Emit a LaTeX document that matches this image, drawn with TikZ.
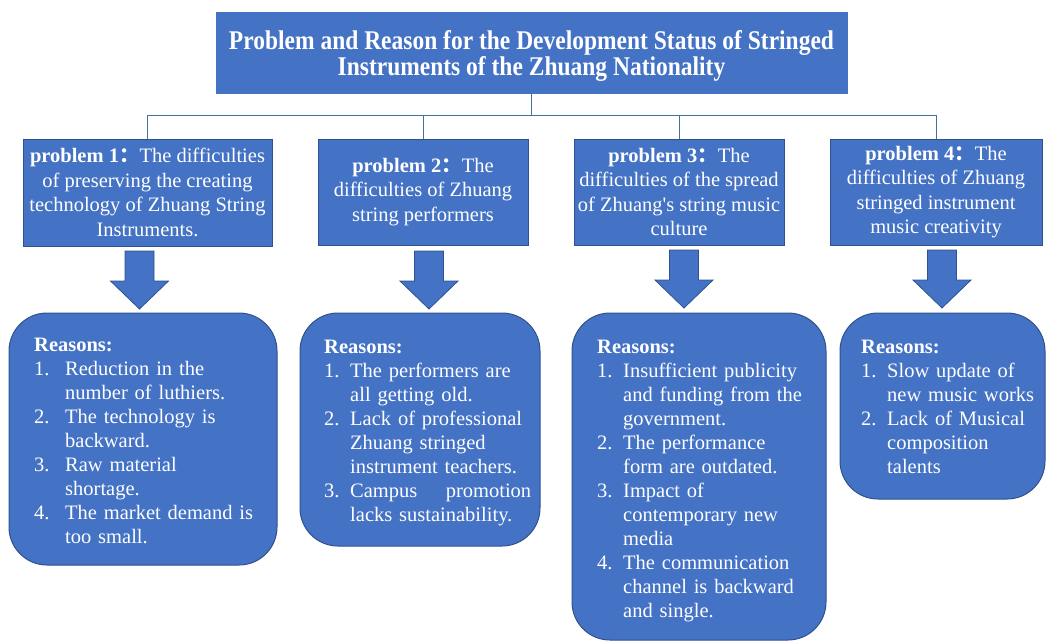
\documentclass[tikz,border=0pt]{standalone}
\usepackage{fontspec}
\setmainfont{Liberation Serif}[Ligatures=TeXOff]
\newfontfamily\titlefont[FakeStretch=0.87]{Liberation Serif}
\newfontfamily\cjkfont{Noto Sans CJK SC}
\definecolor{boxblue}{HTML}{4472C4}
\definecolor{edgeblue}{HTML}{2F528F}
\definecolor{linkblue}{HTML}{41719C}
\newcommand\itm[2][26pt]{\makebox[#1][l]{#2}}
\newcommand\cnt[1][26pt]{\hspace*{#1}}
\newcommand\pcolon{{\cjkfont\bfseries ：}}
\begin{document}
\begin{tikzpicture}[x=1pt,y=-1pt,
  titlebox/.style={rectangle, fill=boxblue, draw=boxblue, text=white, align=center, inner sep=0pt,
    font=\titlefont\bfseries\fontsize{27}{23}\selectfont},
  probbox/.style={rectangle, fill=boxblue, draw=edgeblue, line width=0.8pt, text=white, align=center,
    inner sep=0pt, font=\fontsize{20.5}{24.5}\selectfont},
  reasonbox/.style={rectangle, rounded corners=38pt, fill=boxblue, draw=edgeblue, line width=1pt, inner sep=0pt},
  reasontext/.style={anchor=base west, text=white, align=left, text width=240pt, inner sep=0pt,
    font=\fontsize{20.5}{24}\selectfont},
  link/.style={draw=linkblue, line width=1pt},
  downarrow/.pic={\draw[fill=boxblue, draw=edgeblue, line width=0.8pt]
     (-14.5,0) -- (14.5,0) -- (14.5,30) -- (29,30) -- (0,58) -- (-29,30) -- (-14.5,30) -- cycle;}
]
\useasboundingbox (0,0) rectangle (1046,641);

% title
\node[titlebox, minimum width=631pt, minimum height=81pt] (title) at (531.5,52.5)
  {\rule{0pt}{25pt}Problem and Reason for the Development Status of Stringed\\Instruments of the Zhuang Nationality};

% problem boxes
\node[probbox, minimum width=249pt, minimum height=107pt] (p1) at (147.5,192.5)
  {\textbf{problem 1}\pcolon The difficulties\\of preserving the creating\\technology of Zhuang String\\Instruments.};
\node[probbox, minimum width=210pt, minimum height=106pt] (p2) at (423,192)
  {\textbf{problem 2}\pcolon The\\difficulties of Zhuang\\string performers};
\node[probbox, minimum width=210pt, minimum height=106pt] (p3) at (679,192)
  {\textbf{problem 3}\pcolon The\\difficulties of the spread\\of Zhuang's string music\\culture};
\node[probbox, minimum width=212pt, minimum height=106pt] (p4) at (936,192)
  {\textbf{problem 4}\pcolon The\\difficulties of Zhuang\\stringed instrument\\music creativity};

% tree connectors
\coordinate (bus) at (531.5,115);
\draw[link] (title.south) -- (title.south |- bus);
\foreach \p in {p1,p2,p3,p4} \draw[link] (\p.north) |- (title.south |- bus);

% block arrows
\pic at (139.5,251) {downarrow};
\pic at (429,251) {downarrow};
\pic at (684,250) {downarrow};
\pic at (942,250) {downarrow};

% reason boxes
\node[reasonbox, minimum width=268pt, minimum height=252pt] (r1) at (143,439) {};
\node[reasonbox, minimum width=240pt, minimum height=233pt] (r2) at (420,429.5) {};
\node[reasonbox, minimum width=254pt, minimum height=327pt] (r3) at (699,476.5) {};
\node[reasonbox, minimum width=205pt, minimum height=186pt] (r4) at (942.5,406) {};

\node[reasontext] (r1t) at (34,351)
  {\textbf{Reasons:}\\
   \itm[31pt]{1.}Reduction in the\\
   \cnt[31pt]number of luthiers.\\
   \itm[31pt]{2.}The technology is\\
   \cnt[31pt]backward.\\
   \itm[31pt]{3.}Raw material\\
   \cnt[31pt]shortage.\\
   \itm[31pt]{4.}The market demand is\\
   \cnt[31pt]too small.};
\node[reasontext] (r2t) at (324,353)
  {\textbf{Reasons:}\\
   \itm{1.}The performers are\\
   \cnt all getting old.\\
   \itm{2.}Lack of professional\\
   \cnt Zhuang stringed\\
   \cnt instrument teachers.\\
   \itm{3.}\makebox[181pt][s]{Campus\hfill promotion}\\
   \cnt lacks sustainability.};
\node[reasontext] (r3t) at (597,353)
  {\textbf{Reasons:}\\
   \itm{1.}Insufficient publicity\\
   \cnt and funding from the\\
   \cnt government.\\
   \itm{2.}The performance\\
   \cnt form are outdated.\\
   \itm{3.}Impact of\\
   \cnt contemporary new\\
   \cnt media\\
   \itm{4.}The communication\\
   \cnt channel is backward\\
   \cnt and single.};
\node[reasontext] (r4t) at (861,353)
  {\textbf{Reasons:}\\
   \itm{1.}Slow update of\\
   \cnt new music works\\
   \itm{2.}Lack of Musical\\
   \cnt composition\\
   \cnt talents};
\end{tikzpicture}
\end{document}
